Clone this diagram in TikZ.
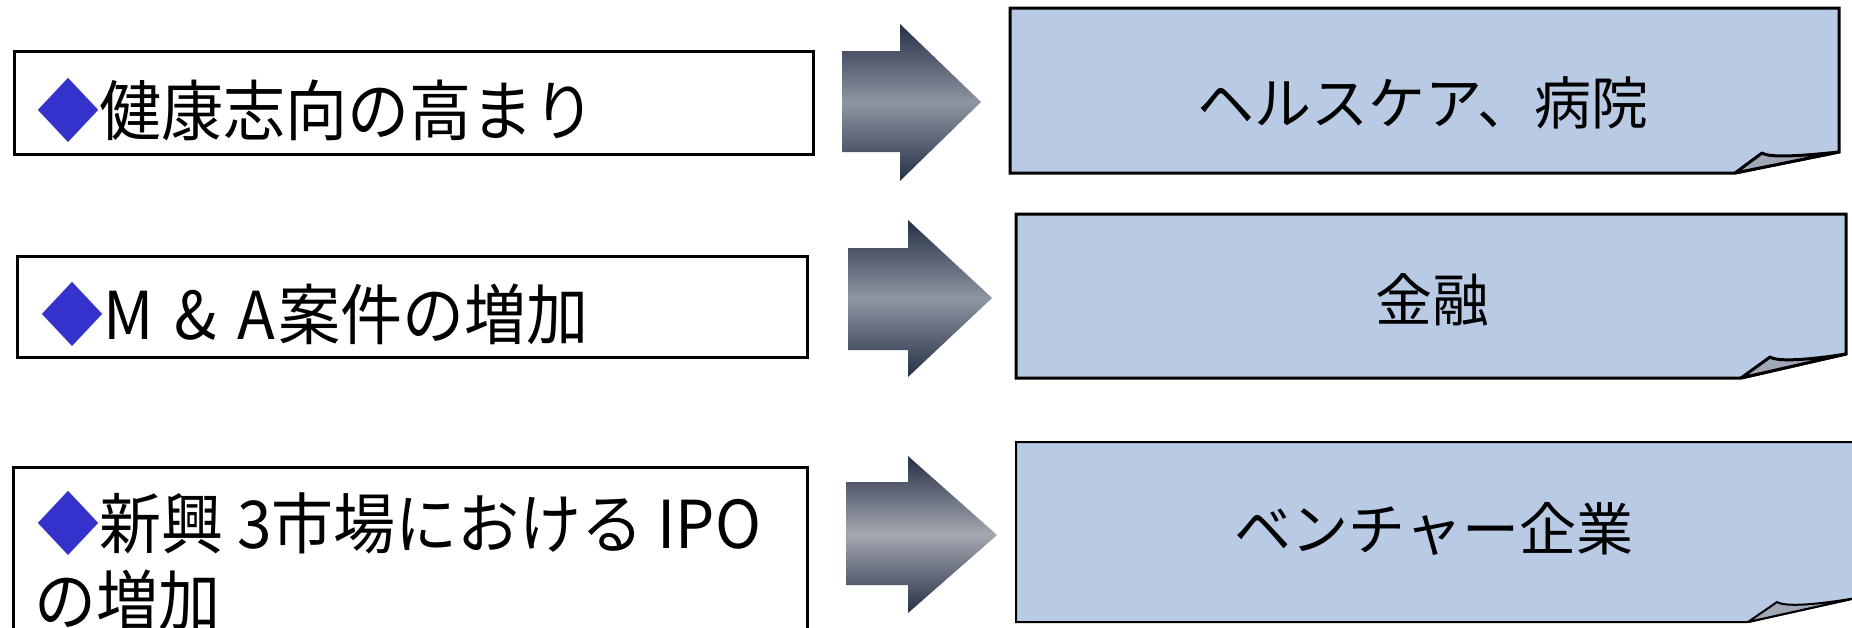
\documentclass[tikz,border=0pt]{standalone}
\usepackage{fontspec}
\setmainfont{Noto Sans CJK JP}
\usetikzlibrary{calc}
\definecolor{paper}{RGB}{185,203,228}
\definecolor{foldc}{RGB}{160,168,184}
\definecolor{dia}{RGB}{51,51,204}
\definecolor{arrdark}{RGB}{38,48,70}
\definecolor{arrmid}{RGB}{142,150,162}
\definecolor{arrmidb}{RGB}{164,168,177}
\tikzset{
  leftbox/.style={draw=black, line width=3pt, fill=white},
  notebox/.style={draw=black, line width=3pt, fill=paper, line join=miter},
  foldpart/.style={draw=black, line width=3pt, fill=foldc, line join=round},
  bigarrow/.style={top color=arrdark, bottom color=arrdark, middle color=arrmid},
  lefttext/.style={anchor=west, inner sep=0pt, font=\fontsize{66}{80}\selectfont},
  righttext/.style={anchor=center, inner sep=0pt, font=\fontsize{57}{68}\selectfont},
}
\newcommand{\dmd}{{\color{dia}◆}}
\newcommand{\narrow}[1]{\scalebox{0.94}[1]{#1}}
\begin{document}
\begin{tikzpicture}[x=1pt,y=-1pt]
\useasboundingbox (0,0) rectangle (1852,627);
\clip (0,0) rectangle (1852,627);
\fill[white] (0,0) rectangle (1852,627);

% left boxes
\draw[leftbox] (14,51) rectangle (813,154);
\node[lefttext] (t1) at (37,110) {\narrow{\dmd 健康志向の高まり}};

\draw[leftbox] (17,256) rectangle (807,357);
\node[lefttext] (t2) at (41,314) {\narrow{\dmd M\hspace{22pt}\&\hspace{22pt}A\hspace{4pt}案件の増加}};

\draw[leftbox] (13,467) rectangle (807,660);
\node[lefttext] (t3a) at (37,523) {\narrow{\dmd 新興 3市場における IPO}};
\node[lefttext] (t3b) at (34,600) {\narrow{の増加}};

% block arrows
\path[bigarrow] (842,51) -- (900,51) -- (900,24) -- (981,102) -- (900,181) -- (900,152) -- (842,152) -- cycle;
\path[bigarrow] (848,248) -- (908,248) -- (908,220) -- (992,298) -- (908,377) -- (908,350) -- (848,350) -- cycle;
\path[top color=arrdark, bottom color=arrdark, middle color=arrmidb] (846,482) -- (908,482) -- (908,456) -- (997,535) -- (908,613) -- (908,585) -- (846,585) -- cycle;

% note boxes with curled corner
\draw[notebox] (1010,8) -- (1839,8) -- (1839,152) -- (1735,173) -- (1010,173) -- cycle;
\draw[foldpart] (1735,173) -- (1762,153) .. controls (1770,158) and (1800,156) .. (1839,152) -- cycle;
\node[righttext] (r1) at (1423,103) {ヘルスケア、病院};

\draw[notebox] (1016,214) -- (1846,214) -- (1846,354) -- (1741,378) -- (1016,378) -- cycle;
\draw[foldpart] (1741,378) -- (1770,357) .. controls (1778,362) and (1808,360) .. (1846,354) -- cycle;
\node[righttext] (r2) at (1432,300) {金融};

\draw[notebox, line width=2pt] (1016,442) -- (1856,442) -- (1856,598) -- (1748,622) -- (1016,622) -- cycle;
\draw[foldpart, line width=2pt] (1748,622) -- (1777,602) .. controls (1785,607) and (1815,605) .. (1856,598) -- cycle;
\node[righttext] (r3) at (1434,529) {ベンチャー企業};
\end{tikzpicture}
\end{document}
